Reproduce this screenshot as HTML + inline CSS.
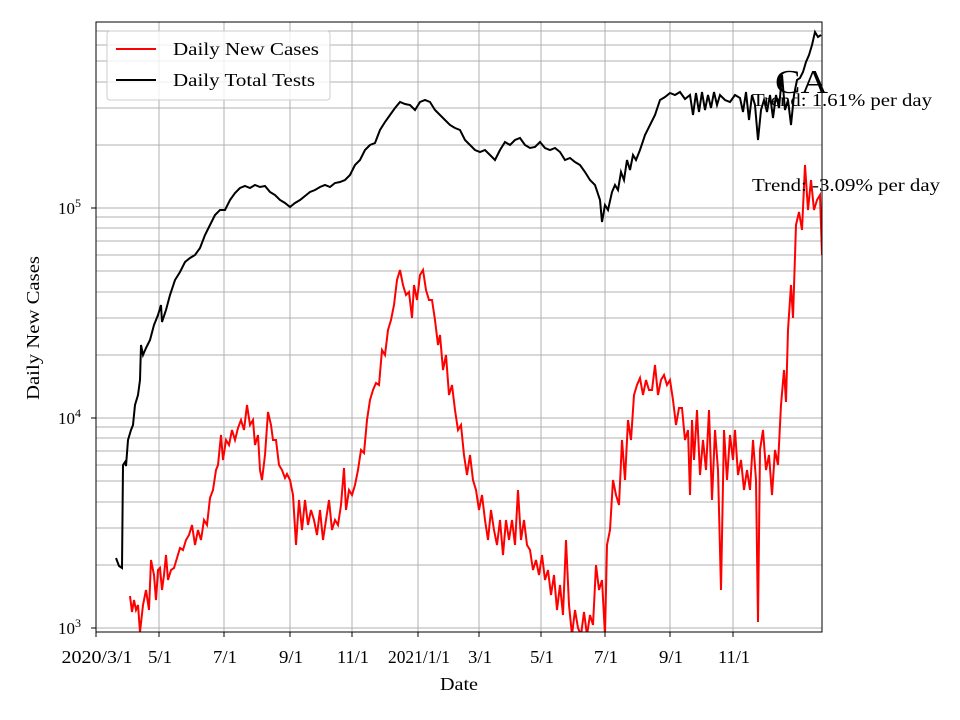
<!DOCTYPE html>
<html><head><meta charset="utf-8"><style>body{margin:0;background:#fff}svg{display:block;font-family:"Liberation Serif",serif}</style></head><body>
<svg width="960" height="720" xmlns="http://www.w3.org/2000/svg">
<rect width="960" height="720" fill="#fff"/>
<g stroke="#b0b0b0" stroke-width="1">
<line x1="96" x2="822" y1="628" y2="628"/><line x1="96" x2="822" y1="418" y2="418"/><line x1="96" x2="822" y1="208" y2="208"/>
<line x1="96" x2="822" y1="565" y2="565"/><line x1="96" x2="822" y1="528" y2="528"/><line x1="96" x2="822" y1="502" y2="502"/><line x1="96" x2="822" y1="481" y2="481"/><line x1="96" x2="822" y1="465" y2="465"/><line x1="96" x2="822" y1="451" y2="451"/><line x1="96" x2="822" y1="438" y2="438"/><line x1="96" x2="822" y1="427" y2="427"/>
<line x1="96" x2="822" y1="355" y2="355"/><line x1="96" x2="822" y1="318" y2="318"/><line x1="96" x2="822" y1="292" y2="292"/><line x1="96" x2="822" y1="271" y2="271"/><line x1="96" x2="822" y1="255" y2="255"/><line x1="96" x2="822" y1="241" y2="241"/><line x1="96" x2="822" y1="228" y2="228"/><line x1="96" x2="822" y1="217" y2="217"/>
<line x1="96" x2="822" y1="145" y2="145"/><line x1="96" x2="822" y1="108" y2="108"/><line x1="96" x2="822" y1="82" y2="82"/><line x1="96" x2="822" y1="61" y2="61"/><line x1="96" x2="822" y1="45" y2="45"/><line x1="96" x2="822" y1="31" y2="31"/>
<line y1="22" y2="632" x1="96" x2="96"/><line y1="22" y2="632" x1="159" x2="159"/><line y1="22" y2="632" x1="224" x2="224"/><line y1="22" y2="632" x1="290" x2="290"/><line y1="22" y2="632" x1="352" x2="352"/><line y1="22" y2="632" x1="418" x2="418"/><line y1="22" y2="632" x1="479" x2="479"/><line y1="22" y2="632" x1="541" x2="541"/><line y1="22" y2="632" x1="605" x2="605"/><line y1="22" y2="632" x1="670" x2="670"/><line y1="22" y2="632" x1="733" x2="733"/>
</g>
<svg x="96" y="22" width="726" height="610" viewBox="96 22 726 610" overflow="hidden">
<polyline fill="none" stroke="#000" stroke-width="2" points="116,558 119,566 122,568 123,465 125,462 126,466 128,440 131,430 133,425 135,405 138,395 140,380 141,345 143,355 146,348 150,340 154,325 158,315 161,305 162,322 166,310 170,295 175,280 180,272 185,262 190,258 195,255 200,248 205,235 210,225 215,215 220,210 225,210 230,200 235,193 240,188 245,186 250,188 255,185 260,187 265,186 270,192 275,195 280,200 285,203 290,207 295,203 300,200 305,196 310,192 315,190 320,187 325,185 330,187 335,183 340,182 345,180 350,175 355,165 360,160 365,150 370,145 375,143 380,130 385,122 390,115 395,108 400,102 405,104 410,105 415,110 420,102 425,100 430,102 435,110 440,115 445,120 450,125 455,128 460,130 465,140 470,145 475,150 480,152 485,150 490,155 495,160 500,150 505,142 510,145 515,140 520,138 525,145 530,148 535,147 540,142 545,148 550,150 555,148 560,152 565,160 570,158 575,162 580,165 585,172 590,180 595,185 600,200 602,222 605,205 608,210 612,192 615,185 618,190 621,172 624,180 627,160 630,170 633,155 636,160 640,150 645,135 650,125 655,115 660,100 665,97 670,93 675,95 680,92 685,99 690,95 693,115 696,93 699,112 702,92 705,110 708,95 711,108 714,92 717,105 720,95 725,100 730,102 735,95 740,98 743,112 746,92 749,120 752,95 755,105 758,140 761,110 764,100 767,112 770,95 773,118 776,95 779,108 782,75 785,110 788,100 791,125 794,95 797,80 800,78 803,72 806,62 809,55 812,45 815,32 818,37 821,35"/>
<polyline fill="none" stroke="#f00" stroke-width="2" points="130,596 132,612 134,600 136,610 138,605 140,632 143,605 146,590 149,610 151,560 154,575 156,600 158,570 160,568 162,590 164,575 166,555 168,580 171,570 174,568 177,558 180,548 183,550 186,540 189,535 192,525 195,545 198,530 201,540 204,520 207,525 210,498 213,490 216,470 218,465 221,435 223,460 226,440 229,445 232,430 235,440 238,428 241,420 244,430 247,405 250,425 253,420 255,445 258,435 260,470 262,480 265,455 268,412 271,425 273,440 276,440 279,465 282,470 285,478 287,474 290,480 293,495 296,545 299,500 302,530 305,500 308,525 311,510 314,520 317,535 320,510 323,540 326,520 329,500 332,530 335,520 338,525 341,505 344,468 346,510 349,490 352,495 355,485 358,470 361,450 364,453 367,420 370,400 373,390 376,383 379,385 382,350 385,355 388,330 391,320 394,305 397,280 400,270 403,285 406,295 409,292 412,318 414,285 417,300 420,275 423,270 426,290 429,300 432,300 435,320 438,345 440,335 443,370 446,355 449,395 452,385 455,410 458,430 461,425 464,455 467,475 470,455 473,480 476,490 479,510 482,495 485,520 488,540 491,510 494,530 497,545 500,520 503,555 506,520 509,540 512,520 515,545 518,490 521,540 524,520 527,545 530,550 533,570 536,560 539,575 542,555 545,580 548,570 551,595 554,575 557,610 560,585 563,615 566,540 569,605 572,635 575,610 578,628 581,635 584,612 587,635 590,615 593,625 596,565 599,590 602,580 605,635 607,545 610,530 613,480 616,495 619,505 622,440 625,480 628,420 631,440 634,395 637,385 640,378 643,395 646,380 649,390 652,390 655,365 658,395 661,380 664,375 667,385 670,380 673,400 676,425 679,408 682,408 685,440 688,430 690,495 692,420 694,460 697,410 700,475 703,440 706,470 709,410 712,500 715,430 718,470 721,590 724,430 727,480 730,435 733,460 735,430 738,475 741,460 744,490 747,470 750,490 753,440 756,480 758,622 760,450 763,430 766,470 769,455 772,495 775,450 778,465 781,405 784,370 786,402 788,330 791,285 793,318 796,225 799,212 802,230 805,165 808,210 811,180 814,210 817,200 820,195 822,255"/>
</svg>
<rect x="96" y="22" width="726" height="610" fill="none" stroke="#000" stroke-width="1"/>
<g stroke="#000"><line x1="96" x2="91" y1="628" y2="628"/><line x1="96" x2="91" y1="418" y2="418"/><line x1="96" x2="91" y1="208" y2="208"/>
<line y1="632" y2="637" x1="96" x2="96"/><line y1="632" y2="637" x1="159" x2="159"/><line y1="632" y2="637" x1="224" x2="224"/><line y1="632" y2="637" x1="290" x2="290"/><line y1="632" y2="637" x1="352" x2="352"/><line y1="632" y2="637" x1="418" x2="418"/><line y1="632" y2="637" x1="479" x2="479"/><line y1="632" y2="637" x1="541" x2="541"/><line y1="632" y2="637" x1="605" x2="605"/><line y1="632" y2="637" x1="670" x2="670"/><line y1="632" y2="637" x1="733" x2="733"/></g>
<g font-size="18" text-anchor="middle" lengthAdjust="spacingAndGlyphs">
<text x="97" y="663" textLength="71" lengthAdjust="spacingAndGlyphs">2020/3/1</text><text x="160" y="663" textLength="24" lengthAdjust="spacingAndGlyphs">5/1</text><text x="225" y="663" textLength="24" lengthAdjust="spacingAndGlyphs">7/1</text><text x="291" y="663" textLength="24" lengthAdjust="spacingAndGlyphs">9/1</text><text x="353" y="663" textLength="32" lengthAdjust="spacingAndGlyphs">11/1</text><text x="419" y="663" textLength="62" lengthAdjust="spacingAndGlyphs">2021/1/1</text><text x="480" y="663" textLength="24" lengthAdjust="spacingAndGlyphs">3/1</text><text x="542" y="663" textLength="24" lengthAdjust="spacingAndGlyphs">5/1</text><text x="606" y="663" textLength="24" lengthAdjust="spacingAndGlyphs">7/1</text><text x="671" y="663" textLength="24" lengthAdjust="spacingAndGlyphs">9/1</text><text x="734" y="663" textLength="32" lengthAdjust="spacingAndGlyphs">11/1</text>
<text x="459" y="690" textLength="38" lengthAdjust="spacingAndGlyphs">Date</text>
<text transform="translate(39,328) rotate(-90)" textLength="144" lengthAdjust="spacingAndGlyphs">Daily New Cases</text>
</g>
<g font-size="17" text-anchor="end">
<text x="81" y="634">10<tspan font-size="12" dy="-7">3</tspan></text>
<text x="81" y="424">10<tspan font-size="12" dy="-7">4</tspan></text>
<text x="81" y="214">10<tspan font-size="12" dy="-7">5</tspan></text>
</g>
<rect x="107" y="31" width="223" height="69" rx="3" fill="#fff" fill-opacity="0.8" stroke="#ccc"/>
<line x1="116" x2="156" y1="49" y2="49" stroke="#f00" stroke-width="2"/>
<line x1="116" x2="156" y1="80" y2="80" stroke="#000" stroke-width="2"/>
<text x="173" y="55" font-size="18" textLength="146" lengthAdjust="spacingAndGlyphs">Daily New Cases</text>
<text x="173" y="86" font-size="18" textLength="142" lengthAdjust="spacingAndGlyphs">Daily Total Tests</text>
<text x="775" y="93" font-size="34" textLength="53" lengthAdjust="spacingAndGlyphs">CA</text>
<text x="752" y="106" font-size="18" textLength="180" lengthAdjust="spacingAndGlyphs">Trend: 1.61% per day</text>
<text x="752" y="191" font-size="18" textLength="188" lengthAdjust="spacingAndGlyphs">Trend: -3.09% per day</text>
</svg>
</body></html>
